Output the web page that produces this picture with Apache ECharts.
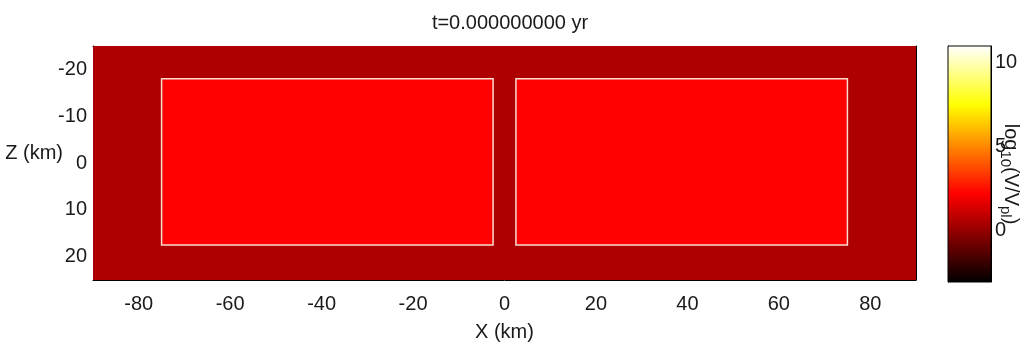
<!DOCTYPE html>
<html>
<head>
<meta charset="utf-8">
<title>Fault slip-rate snapshot</title>
<script src="https://cdn.jsdelivr.net/npm/echarts@6/dist/echarts.min.js"></script>
<style>
  html, body { margin: 0; padding: 0; background: #ffffff; }
  #chart { width: 1027px; height: 352px; }
</style>
</head>
<body>
<div id="chart"></div>
<script>
// Snapshot time shown in the title
const snapshotTime = '0.000000000';

// Fault patches: along-strike X (km), depth Z (km), log10(V/Vpl)
const patchNames    = ['host', 'barrier', 'left segment', 'right segment'];
const patchXMin     = [-90, -2.5, -75, 2.5];
const patchXMax     = [90, 2.5, -2.5, 75];
const patchZMin     = [-25, -18, -18, -18];
const patchZMax     = [25, 17.5, 17.5, 17.5];
const patchLogV     = [0.5, 0.5, 2.2, 2.2];
const patchOutlined = [0, 0, 1, 1];

// Axis extents and tick values
const xExtent = [-90, 90];
const zExtent = [-25, 25];
const xTicks = [-80, -60, -40, -20, 0, 20, 40, 60, 80];
const zTicks = [-20, -10, 0, 10, 20];

// Colour scale (log10 of slip rate over plate rate)
const cbMin = -3.1;
const cbMax = 11;
const cbTicks = [0, 5, 10];

// "hot" colormap, evenly spaced stops
const hotStops = ['#000000', '#550000', '#aa0000', '#ff0000', '#ff5500',
                  '#ffaa00', '#ffff00', '#ffff80', '#ffffff'];

const patchData = patchNames.map((n, i) => ({
  name: n,
  value: [patchXMin[i], patchXMax[i], patchZMin[i], patchZMax[i], patchLogV[i], patchOutlined[i]]
}));

const FONT = "'Liberation Sans', Arial, sans-serif";
const INK = '#1a1a1a';

const chart = echarts.init(document.getElementById('chart'), null, { renderer: 'canvas' });

const insideTick = (vals, len) => ({ show: true, inside: true, length: len, customValues: vals,
  lineStyle: { color: '#000', width: 1 } });
const frameLine = { show: true, onZero: false, lineStyle: { color: '#000', width: 1 } };

chart.setOption({
  animation: false,
  backgroundColor: '#ffffff',
  textStyle: { fontFamily: FONT, color: INK },
  title: {
    text: 't=' + snapshotTime + ' yr',
    left: 505, top: 8, textAlign: 'center',
    textStyle: { fontFamily: FONT, fontSize: 20, fontWeight: 'normal', color: INK }
  },
  grid: [
    { left: 93, right: 111, top: 46, bottom: 72, containLabel: false, outerBoundsMode: 'none' },
    { left: 948, right: 36, top: 46, bottom: 70, containLabel: false, outerBoundsMode: 'none' }
  ],
  visualMap: {
    show: false, type: 'continuous', seriesIndex: 0, dimension: 4,
    min: cbMin, max: cbMax, inRange: { color: hotStops }
  },
  xAxis: [
    { type: 'value', gridIndex: 0, min: xExtent[0], max: xExtent[1], position: 'bottom',
      name: 'X (km)', nameLocation: 'middle', nameGap: 42, nameMoveOverlap: false,
      nameTextStyle: { fontFamily: FONT, fontSize: 20, color: INK },
      axisLine: frameLine,
      axisTick: insideTick(xTicks, 6),
      axisLabel: { customValues: xTicks, margin: 14, fontFamily: FONT, fontSize: 20, color: INK },
      splitLine: { show: false } },
    { type: 'value', gridIndex: 0, min: xExtent[0], max: xExtent[1], position: 'top',
      axisLine: frameLine,
      axisTick: insideTick(xTicks, 6), axisLabel: { show: false }, splitLine: { show: false } },
    { type: 'value', gridIndex: 1, min: 0, max: 1, show: false }
  ],
  yAxis: [
    { type: 'value', gridIndex: 0, min: zExtent[0], max: zExtent[1], inverse: true, position: 'left',
      name: 'Z (km)', nameLocation: 'middle', nameRotate: 0, nameGap: 30, nameMoveOverlap: false,
      nameTextStyle: { fontFamily: FONT, fontSize: 20, color: INK, verticalAlign: 'bottom',
        padding: [0, 0, 0, 0] },
      axisLine: frameLine,
      axisTick: insideTick(zTicks, 6),
      axisLabel: { customValues: zTicks, margin: 6, fontFamily: FONT, fontSize: 20, color: INK },
      splitLine: { show: false } },
    { type: 'value', gridIndex: 0, min: zExtent[0], max: zExtent[1], inverse: true, position: 'right',
      axisLine: frameLine,
      axisTick: insideTick(zTicks, 6), axisLabel: { show: false }, splitLine: { show: false } },
    { type: 'value', gridIndex: 1, min: cbMin, max: cbMax, position: 'right',
      name: '{t|log}{s|10}{t|(V/V}{s|pl}{t|)}', nameLocation: 'middle', nameRotate: -90,
      nameGap: 7, nameMoveOverlap: false,
      nameTextStyle: { fontFamily: FONT, color: INK, padding: [0, 0, 0, 20],
        rich: {
          t: { fontFamily: FONT, fontSize: 20, color: INK },
          s: { fontFamily: FONT, fontSize: 15, color: INK, padding: [10, 0, 0, 0] }
        } },
      axisLine: frameLine,
      axisTick: insideTick(cbTicks, 5),
      axisLabel: { customValues: cbTicks, margin: 4, fontFamily: FONT, fontSize: 20, color: INK },
      splitLine: { show: false } },
    { type: 'value', gridIndex: 1, min: cbMin, max: cbMax, position: 'left',
      axisLine: frameLine,
      axisTick: insideTick(cbTicks, 5), axisLabel: { show: false }, splitLine: { show: false } }
  ],
  series: [
    {
      type: 'custom', name: 'log10(V/Vpl)', xAxisIndex: 0, yAxisIndex: 0,
      data: patchData,
      renderItem: function (params, api) {
        const p0 = api.coord([api.value(0), api.value(2)]);
        const p1 = api.coord([api.value(1), api.value(3)]);
        const outlined = api.value(5) === 1;
        return {
          type: 'rect',
          shape: {
            x: Math.min(p0[0], p1[0]), y: Math.min(p0[1], p1[1]),
            width: Math.abs(p1[0] - p0[0]), height: Math.abs(p1[1] - p0[1])
          },
          style: {
            fill: api.visual('color'),
            stroke: outlined ? '#f7ddd2' : null,
            lineWidth: outlined ? 1.5 : 0
          }
        };
      }
    },
    {
      type: 'custom', name: 'colorbar', xAxisIndex: 2, yAxisIndex: 2,
      data: [[0, cbMin, 1, cbMax]],
      renderItem: function (params, api) {
        const p0 = api.coord([api.value(0), api.value(1)]);
        const p1 = api.coord([api.value(2), api.value(3)]);
        const stops = hotStops.map((c, i) => ({ offset: i / (hotStops.length - 1), color: c }));
        return {
          type: 'rect',
          shape: {
            x: Math.min(p0[0], p1[0]), y: Math.min(p0[1], p1[1]),
            width: Math.abs(p1[0] - p0[0]), height: Math.abs(p1[1] - p0[1])
          },
          style: {
            fill: new echarts.graphic.LinearGradient(0, 1, 0, 0, stops),
            stroke: '#000', lineWidth: 1
          }
        };
      }
    }
  ]
});
</script>
</body>
</html>
